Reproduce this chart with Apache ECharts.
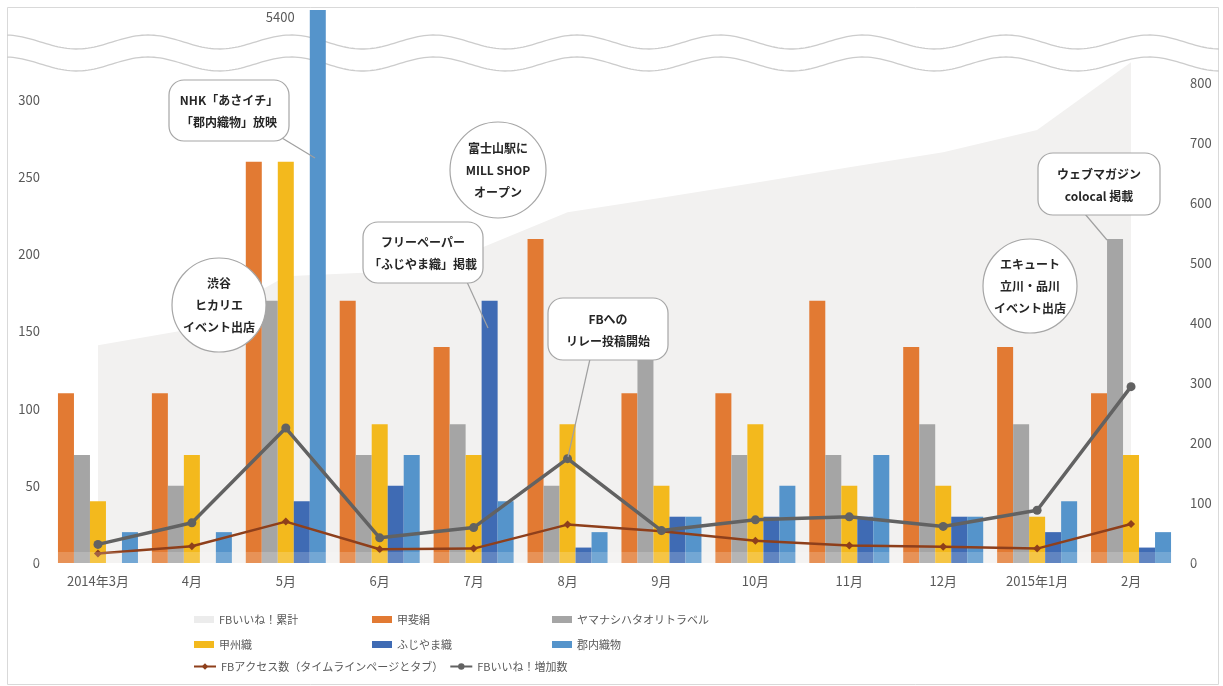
<!DOCTYPE html>
<html>
<head>
<meta charset="utf-8">
<script src="https://cdn.jsdelivr.net/npm/echarts@6/dist/echarts.min.js"></script>
<style>
html,body{margin:0;padding:0;background:#fff;}
#chart{width:1223px;height:686px;}
</style>
</head>
<body>
<div id="chart"></div>
<script>
// ---- data ----
const categories = ['2014年3月','4月','5月','6月','7月','8月','9月','10月','11月','12月','2015年1月','2月'];
const fbLikesTotal   = [363, 390, 478, 485, 520, 585, 609, 634, 660, 685, 722, 835];
const kaiki          = [110, 110, 260, 170, 140, 210, 110, 110, 170, 140, 140, 110];
const yamanashiTravel= [70, 50, 170, 70, 90, 50, 140, 70, 70, 90, 90, 210];
const koshuOri       = [40, 70, 260, 90, 70, 90, 50, 90, 50, 50, 30, 70];
const fujiyamaOri    = [0, 0, 40, 50, 170, 10, 30, 30, 30, 30, 20, 10];
const gunnaiOrimono  = [20, 20, 5400, 70, 40, 20, 30, 50, 70, 30, 40, 20];
const fbAccess       = [16, 28, 69, 23, 24, 64, 53, 37, 29, 27, 24, 65];
const fbLikesInc     = [31, 67, 225, 42, 59, 174, 54, 72, 77, 61, 88, 294];
const leftTickMax = 300;   // highest shown left tick label
const rightTickMax = 800;  // highest shown right tick label

const names = {
  total: 'FBいいね！累計',
  kaiki: '甲斐絹',
  travel: 'ヤマナシハタオリトラベル',
  koshu: '甲州織',
  fujiyama: 'ふじやま織',
  gunnai: '郡内織物',
  access: 'FBアクセス数（タイムラインページとタブ）',
  likes: 'FBいいね！増加数'
};

const FONT = '"Noto Sans CJK JP", "Noto Sans", sans-serif';
const chart = echarts.init(document.getElementById('chart'), null, {renderer: 'canvas'});

// wave break lines (decoration)
function wavePoints(center) {
  const pts = [];
  for (let x = 7; x <= 1219; x += 3) {
    pts.push([x, center - 7 * Math.cos(2 * Math.PI * (x - 577) / 143)]);
  }
  return pts;
}

const calloutText = {fill: '#262626', font: 'bold 12px ' + FONT, align: 'center', verticalAlign: 'middle', lineHeight: 22};
function roundBox(x, y, w, h, text) {
  return {
    type: 'group', z: 10, children: [
      {type: 'rect', shape: {x: x, y: y, width: w, height: h, r: 15}, style: {fill: '#fff', stroke: '#a6a6a6', lineWidth: 1.2}, z: 10},
      {type: 'text', style: Object.assign({text: text, x: x + w / 2, y: y + h / 2 + 1}, calloutText), z: 11}
    ]
  };
}
function circleBox(cx, cy, r, text) {
  return {
    type: 'group', z: 10, children: [
      {type: 'circle', shape: {cx: cx, cy: cy, r: r}, style: {fill: '#fff', stroke: '#a6a6a6', lineWidth: 1.2}, z: 10},
      {type: 'text', style: Object.assign({text: text, x: cx, y: cy, lineHeight: 22}, calloutText), z: 11}
    ]
  };
}
function pointer(x1, y1, x2, y2) {
  return {type: 'line', shape: {x1: x1, y1: y1, x2: x2, y2: y2}, style: {stroke: '#a0a0a0', lineWidth: 1.2}, z: 9};
}

const barBase = {type: 'bar', yAxisIndex: 0, barWidth: 16, barGap: '0%', z: 2};

const option = {
  backgroundColor: '#ffffff',
  animation: false,
  textStyle: {fontFamily: FONT},
  grid: {left: 51, right: 45, top: 10, bottom: 123, containLabel: false},
  xAxis: {
    type: 'category',
    data: categories,
    axisLine: {show: false},
    axisTick: {show: false},
    axisLabel: {color: '#595959', fontSize: 13, margin: 12, fontFamily: FONT, interval: 0}
  },
  yAxis: [
    {
      type: 'value', min: 0, max: 358.4, interval: 50,
      axisLine: {show: false}, axisTick: {show: false}, splitLine: {show: false},
      axisLabel: {color: '#595959', fontSize: 13, margin: 11, fontFamily: FONT,
        formatter: v => (v <= leftTickMax && v % 50 === 0) ? String(v) : ''}
    },
    {
      type: 'value', min: 0, max: 922, interval: 100, position: 'right',
      axisLine: {show: false}, axisTick: {show: false}, splitLine: {show: false},
      axisLabel: {color: '#595959', fontSize: 13, margin: 12, fontFamily: FONT,
        formatter: v => (v <= rightTickMax && v % 100 === 0) ? String(v) : ''}
    }
  ],
  legend: [
    {left: 189, top: 609, orient: 'vertical', itemGap: 14, itemWidth: 20, itemHeight: 7,
      textStyle: {color: '#595959', fontSize: 11, fontFamily: FONT},
      data: [{name: names.total, icon: 'rect', itemStyle: {color: '#ececec'}}, {name: names.koshu, icon: 'rect'}]},
    {left: 367, top: 609, orient: 'vertical', itemGap: 14, itemWidth: 20, itemHeight: 7,
      textStyle: {color: '#595959', fontSize: 11, fontFamily: FONT},
      data: [{name: names.kaiki, icon: 'rect'}, {name: names.fujiyama, icon: 'rect'}]},
    {left: 547, top: 609, orient: 'vertical', itemGap: 14, itemWidth: 20, itemHeight: 7,
      textStyle: {color: '#595959', fontSize: 11, fontFamily: FONT},
      data: [{name: names.travel, icon: 'rect'}, {name: names.gunnai, icon: 'rect'}]},
    {left: 188, top: 656, orient: 'horizontal', itemGap: 6, itemWidth: 22, itemHeight: 8,
      textStyle: {color: '#595959', fontSize: 11, fontFamily: FONT},
      data: [names.access, names.likes]}
  ],
  series: [
    {
      name: names.total, type: 'line', yAxisIndex: 1, data: fbLikesTotal,
      showSymbol: false, symbol: 'none', z: 0,
      lineStyle: {width: 0, color: '#f2f1f0'},
      itemStyle: {color: '#ececec'},
      areaStyle: {color: '#f2f1f0', opacity: 1}
    },
    Object.assign({}, barBase, {name: names.kaiki, data: kaiki, itemStyle: {color: '#E27A33'}}),
    Object.assign({}, barBase, {name: names.travel, data: yamanashiTravel, itemStyle: {color: '#A5A5A5'}}),
    Object.assign({}, barBase, {name: names.koshu, data: koshuOri, itemStyle: {color: '#F3B91D'}}),
    Object.assign({}, barBase, {name: names.fujiyama, data: fujiyamaOri, itemStyle: {color: '#3F6BB4'}}),
    Object.assign({}, barBase, {
      name: names.gunnai, itemStyle: {color: '#5594CB'},
      data: gunnaiOrimono.map(v => v > leftTickMax * 1.2
        ? {value: v, label: {show: true, position: [-44, 1], color: '#595959', fontSize: 13, fontFamily: FONT, formatter: '{c}'}}
        : v)
    }),
    {
      name: names.access, type: 'line', yAxisIndex: 1, data: fbAccess, z: 3,
      symbol: 'diamond', symbolSize: 8,
      lineStyle: {width: 2.5, color: '#8E3F1B'},
      itemStyle: {color: '#8E3F1B'}
    },
    {
      name: names.likes, type: 'line', yAxisIndex: 1, data: fbLikesInc, z: 3,
      symbol: 'circle', symbolSize: 9,
      lineStyle: {width: 3.5, color: '#626262'},
      itemStyle: {color: '#626262'}
    }
  ],
  graphic: [
    {type: 'rect', shape: {x: 7.5, y: 7.5, width: 1211, height: 677}, style: {fill: 'none', stroke: '#d9d9d9', lineWidth: 1}, z: 0, silent: true},
    {type: 'polyline', shape: {points: wavePoints(42)}, style: {fill: 'none', stroke: '#cccccc', lineWidth: 1.3}, z: 1, silent: true},
    {type: 'polyline', shape: {points: wavePoints(64)}, style: {fill: 'none', stroke: '#cccccc', lineWidth: 1.3}, z: 1, silent: true},
    {type: 'rect', shape: {x: 8, y: 552, width: 1210, height: 11}, style: {fill: 'rgba(255,255,255,0.18)'}, z: 5, silent: true},
    pointer(282, 138, 315, 158),
    roundBox(169, 80, 120, 61, 'NHK「あさイチ」\n「郡内織物」放映'),
    circleBox(219, 305, 47, '渋谷\nヒカリエ\nイベント出店'),
    circleBox(498, 170, 48, '富士山駅に\nMILL SHOP\nオープン'),
    pointer(467, 282, 488, 328),
    roundBox(363, 222, 120, 61, 'フリーペーパー\n「ふじやま織」掲載'),
    pointer(590, 359, 568, 457),
    roundBox(548, 298, 120, 62, 'FBへの\nリレー投稿開始'),
    circleBox(1030, 286, 47, 'エキュート\n立川・品川\nイベント出店'),
    pointer(1085, 214, 1107, 240),
    roundBox(1038, 153, 122, 62, 'ウェブマガジン\ncolocal 掲載')
  ]
};
chart.setOption(option);
</script>
</body>
</html>
